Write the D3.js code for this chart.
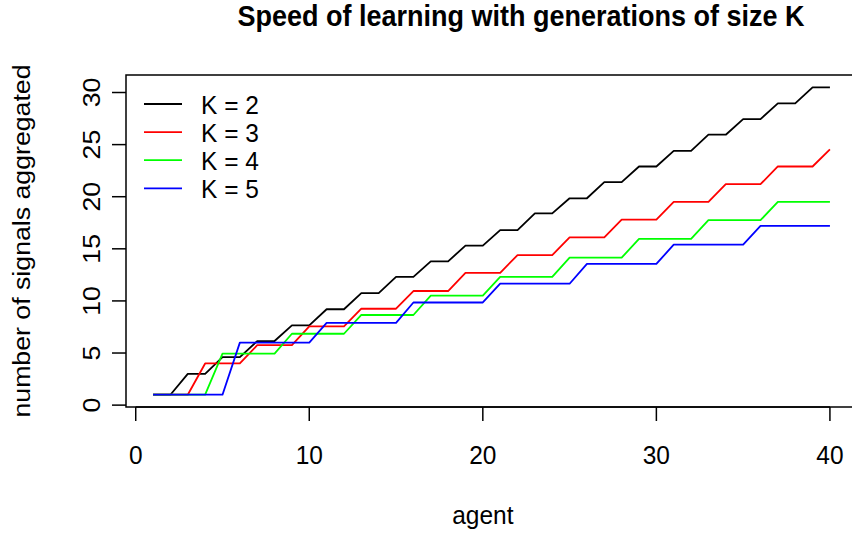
<!DOCTYPE html>
<html>
<head>
<meta charset="utf-8">
<script src="https://cdn.jsdelivr.net/npm/d3@7"></script>
<style>
  html, body { margin: 0; padding: 0; background: #fff; }
  svg { display: block; font-family: "Liberation Sans", Arial, sans-serif; }
</style>
</head>
<body>
<div id="chart"></div>
<script>
// agents on the x axis
const agents = d3.range(1, 41);

// number of signals aggregated, one value per agent
const k2 = [1, 1, 3, 3, 4.6, 4.6, 6.15, 6.15, 7.65, 7.65,
            9.2, 9.2, 10.75, 10.75, 12.3, 12.3, 13.8, 13.8, 15.3, 15.3,
            16.8, 16.8, 18.4, 18.4, 19.85, 19.85, 21.4, 21.4, 22.9, 22.9,
            24.4, 24.4, 25.95, 25.95, 27.45, 27.45, 28.95, 28.95, 30.5, 30.5];
const k3 = [1, 1, 1, 4, 4, 4, 5.75, 5.75, 5.75, 7.55,
            7.55, 7.55, 9.25, 9.25, 9.25, 10.95, 10.95, 10.95, 12.7, 12.7,
            12.7, 14.4, 14.4, 14.4, 16.1, 16.1, 16.1, 17.8, 17.8, 17.8,
            19.5, 19.5, 19.5, 21.2, 21.2, 21.2, 22.9, 22.9, 22.9, 24.55];
const k4 = [1, 1, 1, 1, 4.95, 4.95, 4.95, 4.95, 6.85, 6.85,
            6.85, 6.85, 8.65, 8.65, 8.65, 8.65, 10.5, 10.5, 10.5, 10.5,
            12.3, 12.3, 12.3, 12.3, 14.15, 14.15, 14.15, 14.15, 15.95, 15.95,
            15.95, 15.95, 17.75, 17.75, 17.75, 17.75, 19.5, 19.5, 19.5, 19.5];
const k5 = [1, 1, 1, 1, 1, 6, 6, 6, 6, 6,
            7.9, 7.9, 7.9, 7.9, 7.9, 9.85, 9.85, 9.85, 9.85, 9.85,
            11.65, 11.65, 11.65, 11.65, 11.65, 13.55, 13.55, 13.55, 13.55, 13.55,
            15.4, 15.4, 15.4, 15.4, 15.4, 17.2, 17.2, 17.2, 17.2, 17.2];

const seriesNames = ['K = 2', 'K = 3', 'K = 4', 'K = 5'];
const seriesValues = [k2, k3, k4, k5];
const seriesColors = ['#000000', '#ff0000', '#00ff00', '#0000ff'];

const xTicks = [0, 10, 20, 30, 40];
const yTicks = [0, 5, 10, 15, 20, 25, 30];

const width = 852, height = 533;
const plot = { left: 126, right: 857, top: 75, bottom: 407 };
const fs = '24.5px';
const stretch = 1.09; // glyphs in the picture are a bit taller than wide

const svg = d3.select('#chart')
    .append('svg')
    .attr('width', width)
    .attr('height', height);

const x = d3.scaleLinear()
    .domain([-0.56, 41.56])
    .range([plot.left, plot.right]);

const y = d3.scaleLinear()
    .domain([-0.18, 31.68])
    .range([plot.bottom, plot.top]);

const flat = (px, py) => `translate(${px},${py}) scale(1,${stretch})`;
const upright = (px, py) => `translate(${px},${py}) rotate(-90) scale(${stretch},1)`;

// title
svg.append('text')
    .attr('transform', flat(521, 26))
    .attr('text-anchor', 'middle')
    .attr('font-size', '27px')
    .attr('font-weight', 'bold')
    .text('Speed of learning with generations of size K');

// series
const line = d3.line()
    .x(d => x(d[0]))
    .y(d => y(d[1]));

seriesValues.forEach((vals, i) => {
    svg.append('path')
        .datum(agents.map((a, j) => [a, vals[j]]))
        .attr('fill', 'none')
        .attr('stroke', seriesColors[i])
        .attr('stroke-width', 1.8)
        .attr('stroke-linejoin', 'round')
        .attr('d', line);
});

// plot box (right side falls outside the picture)
svg.append('rect')
    .attr('x', plot.left)
    .attr('y', plot.top)
    .attr('width', plot.right - plot.left)
    .attr('height', plot.bottom - plot.top)
    .attr('fill', 'none')
    .attr('stroke', '#000')
    .attr('stroke-width', 1.5);

// x axis
const xAxis = svg.append('g');
xAxis.append('line')
    .attr('x1', x(0)).attr('x2', x(40))
    .attr('y1', plot.bottom).attr('y2', plot.bottom)
    .attr('stroke', '#000').attr('stroke-width', 1.5);
xAxis.selectAll('.xt')
    .data(xTicks)
    .enter().append('line')
    .attr('x1', d => x(d)).attr('x2', d => x(d))
    .attr('y1', plot.bottom).attr('y2', plot.bottom + 14)
    .attr('stroke', '#000').attr('stroke-width', 1.5);
xAxis.selectAll('.xl')
    .data(xTicks)
    .enter().append('text')
    .attr('transform', d => flat(x(d), 464))
    .attr('text-anchor', 'middle')
    .attr('font-size', fs)
    .text(d => d);

svg.append('text')
    .attr('transform', flat(x(20), 524))
    .attr('text-anchor', 'middle')
    .attr('font-size', fs)
    .text('agent');

// y axis
const yAxis = svg.append('g');
yAxis.selectAll('.yt')
    .data(yTicks)
    .enter().append('line')
    .attr('x1', plot.left - 14).attr('x2', plot.left)
    .attr('y1', d => y(d)).attr('y2', d => y(d))
    .attr('stroke', '#000').attr('stroke-width', 1.5);
yAxis.selectAll('.yl')
    .data(yTicks)
    .enter().append('text')
    .attr('transform', d => upright(100, y(d)))
    .attr('text-anchor', 'middle')
    .attr('font-size', fs)
    .text(d => d);

svg.append('text')
    .attr('transform', upright(30, (plot.top + plot.bottom) / 2))
    .attr('text-anchor', 'middle')
    .attr('font-size', fs)
    .text('number of signals aggregated');

// legend
const legend = svg.append('g');
const legendRows = legend.selectAll('g')
    .data(seriesNames)
    .enter().append('g')
    .attr('transform', (d, i) => `translate(144,${104 + i * 28.1})`);
legendRows.append('line')
    .attr('x1', 0).attr('x2', 38)
    .attr('y1', 0).attr('y2', 0)
    .attr('stroke', (d, i) => seriesColors[i])
    .attr('stroke-width', 1.8);
legendRows.append('text')
    .attr('transform', `translate(57,0) scale(1,${stretch})`)
    .attr('dy', '0.36em')
    .attr('font-size', fs)
    .text(d => d);
</script>
</body>
</html>
